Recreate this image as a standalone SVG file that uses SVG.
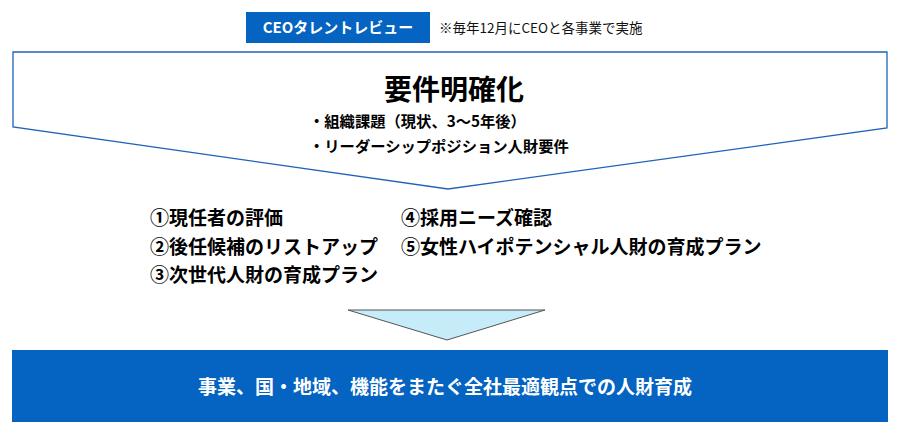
<svg xmlns="http://www.w3.org/2000/svg" width="900" height="436" viewBox="0 0 900 436">
<style>
  text { font-family: "Noto Sans CJK JP", "Noto Sans", sans-serif; }
  .b { font-weight: bold; fill: #000; }
  .w { font-weight: bold; fill: #fff; }
  .item { font-size: 19px; }
  .bul { font-size: 15.3px; }
</style>
<rect width="900" height="436" fill="#fff"/>
<g id="ceo-label">
  <rect x="246" y="12" width="184" height="31" fill="#0563C1"/>
  <text class="w" x="338" y="33" font-size="15" text-anchor="middle">CEOタレントレビュー</text>
</g>
<g id="note">
  <text x="439" y="33" font-size="13.5" fill="#111">※毎年12月にCEOと各事業で実施</text>
</g>
<g id="requirements">
  <polygon points="13,52 887,52 887,128 448,189 13,127" fill="#fff" stroke="#1F63B8" stroke-width="1.3"/>
  <text class="b" x="454" y="100" font-size="28" text-anchor="middle">要件明確化</text>
  <text class="b bul" x="309" y="127">・組織課題（現状、3～5年後）</text>
  <text class="b bul" x="309" y="152">・リーダーシップポジション人財要件</text>
</g>
<g id="items">
  <text class="b item" x="150" y="225">①現任者の評価</text>
  <text class="b item" x="150" y="254">②後任候補のリストアップ</text>
  <text class="b item" x="150" y="282">③次世代人財の育成プラン</text>
  <text class="b item" x="401" y="225">④採用ニーズ確認</text>
  <text class="b item" x="401" y="254">⑤女性ハイポテンシャル人財の育成プラン</text>
</g>
<g id="connectors">
  <polygon points="348,310 545,310 447,340" fill="#C6EBF9" stroke="#555" stroke-width="1"/>
</g>
<g id="goal">
  <rect x="12" y="350" width="876" height="72" fill="#0563C1"/>
  <text class="w" x="445" y="394" font-size="19" text-anchor="middle">事業、国・地域、機能をまたぐ全社最適観点での人財育成</text>
</g>
</svg>
